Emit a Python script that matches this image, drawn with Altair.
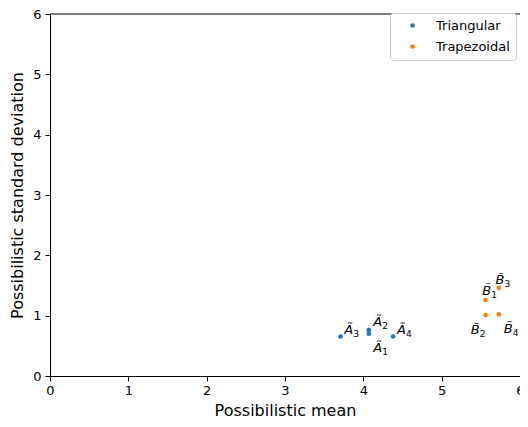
import altair as alt
import pandas as pd

# ---- data ----
names = ["A1", "A2", "A3", "A4", "B1", "B2", "B3", "B4"]
series = ["Triangular"] * 4 + ["Trapezoidal"] * 4
letters = ["A\u0303"] * 4 + ["B\u0303"] * 4
subs = ["1", "2", "3", "4", "1", "2", "3", "4"]
poss_mean = [4.07, 4.07, 3.71, 4.38, 5.56, 5.56, 5.73, 5.73]
poss_sd = [0.70, 0.76, 0.655, 0.655, 1.26, 1.01, 1.46, 1.02]
label_x = [4.127, 4.127, 3.756, 4.43, 5.519, 5.371, 5.687, 5.794]
label_y = [0.395, 0.829, 0.694, 0.694, 1.345, 0.694, 1.517, 0.72]
x_ticks = [0, 1, 2, 3, 4, 5, 6]
y_ticks = [0, 1, 2, 3, 4, 5, 6]
series_order = ["Triangular", "Trapezoidal"]
series_colors = ["#1f77b4", "#ff7f0e"]

X_MAX = 6.0
df = pd.DataFrame({
    "name": names, "series": series, "letter": letters, "sub": subs,
    "mean": poss_mean, "sd": poss_sd, "lx": label_x, "ly": label_y,
})

FONT = "DejaVu Sans"
xs = alt.Scale(domain=[0, X_MAX], nice=False, zero=False)
ys = alt.Scale(domain=[0, 6], nice=False, zero=False)

axis_common = dict(
    grid=False, labelFlush=False, labelOverlap=False, tickSize=5,
    domainColor="black", tickColor="black", labelColor="black", titleColor="black",
    labelFont=FONT, titleFont=FONT, labelFontSize=13, titleFontSize=16,
    titleFontWeight="normal", domainWidth=1, tickWidth=1, format="d",
)

points = alt.Chart(df).mark_circle(size=22, opacity=1).encode(
    x=alt.X("mean:Q", scale=xs, axis=alt.Axis(values=x_ticks, title="Possibilistic mean",
                                              labelPadding=3, titlePadding=5, **axis_common)),
    y=alt.Y("sd:Q", scale=ys, axis=alt.Axis(values=y_ticks, title="Possibilistic standard deviation",
                                            labelPadding=4, titlePadding=7, **axis_common)),
    color=alt.Color("series:N",
                    scale=alt.Scale(domain=series_order, range=series_colors),
                    legend=alt.Legend(title=None, orient="none", legendX=340, legendY=-1,
                                      padding=6, strokeColor="#cccccc", fillColor="white",
                                      cornerRadius=3, symbolType="circle", symbolSize=22,
                                      symbolOffset=10, labelOffset=17, rowPadding=7,
                                      labelFontSize=13, labelFont=FONT, labelColor="black",
                                      symbolStrokeWidth=0)),
)

letter_layer = alt.Chart(df).mark_text(
    align="left", baseline="alphabetic", font=FONT, fontStyle="italic",
    fontSize=13, color="black"
).encode(x=alt.X("lx:Q", scale=xs), y=alt.Y("ly:Q", scale=ys), text="letter:N")

sub_layer = alt.Chart(df).mark_text(
    align="left", baseline="alphabetic", font=FONT, fontSize=9, color="black", dx=9, dy=3
).encode(x=alt.X("lx:Q", scale=xs), y=alt.Y("ly:Q", scale=ys), text="sub:N")

top_rule = alt.Chart(pd.DataFrame({"k": [0]})).mark_rule(color="black", strokeWidth=1).encode(
    x=alt.datum(0, scale=xs), x2=alt.datum(X_MAX), y=alt.datum(6, scale=ys)
)

chart = alt.layer(points, letter_layer, sub_layer, top_rule).properties(
    width=470, height=362,
    padding={"left": 42, "top": 6, "right": 0, "bottom": 43},
    autosize=alt.AutoSizeParams(type="none"),
).configure_view(strokeWidth=0)

chart.save("out.html", embed_options={"renderer": "svg", "actions": False})
